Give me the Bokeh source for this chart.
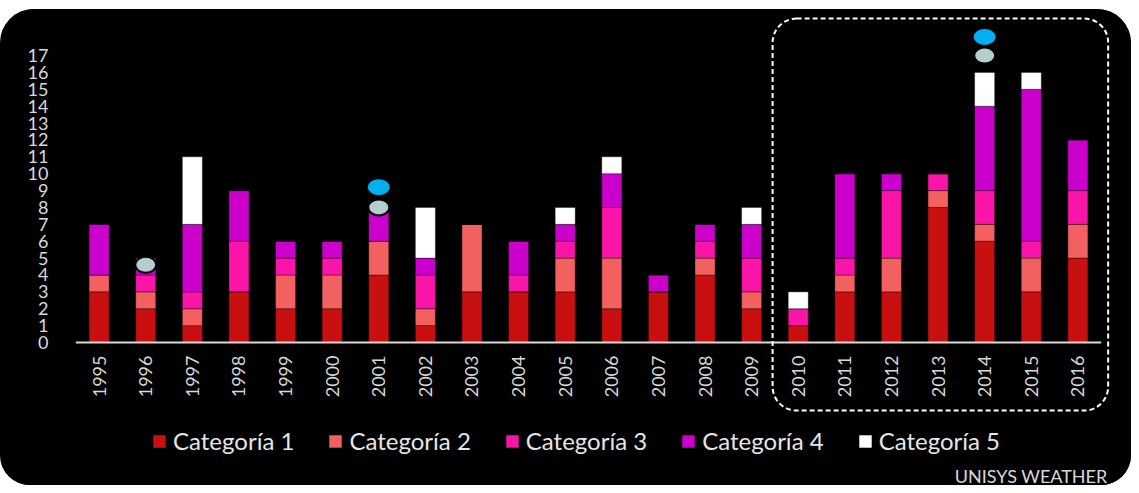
import math
from bokeh.plotting import figure
from bokeh.models import (FactorRange, Range1d, FixedTicker, Legend, LegendItem,
                          BoxAnnotation, Label)
from bokeh.core.properties import value
from bokeh.embed import file_html
from bokeh.resources import INLINE

years = ["1995", "1996", "1997", "1998", "1999", "2000", "2001", "2002", "2003",
         "2004", "2005", "2006", "2007", "2008", "2009", "2010", "2011", "2012",
         "2013", "2014", "2015", "2016"]
cat1 = [3, 2, 1, 3, 2, 2, 4, 1, 3, 3, 3, 2, 3, 4, 2, 1, 3, 3, 8, 6, 3, 5]
cat2 = [1, 1, 1, 0, 2, 2, 2, 1, 4, 0, 2, 3, 0, 1, 1, 0, 1, 2, 1, 1, 2, 2]
cat3 = [0, 1, 1, 3, 1, 1, 0, 2, 0, 1, 1, 3, 0, 1, 2, 1, 1, 4, 1, 2, 1, 2]
cat4 = [3, 1, 4, 3, 1, 1, 2, 1, 0, 2, 1, 2, 1, 1, 2, 0, 5, 1, 0, 5, 9, 3]
cat5 = [0, 0, 4, 0, 0, 0, 0, 3, 0, 0, 1, 1, 0, 0, 1, 1, 0, 0, 0, 2, 1, 0]
series_names = ["Categoría 1", "Categoría 2", "Categoría 3", "Categoría 4", "Categoría 5"]
colors = ["#c81010", "#f26060", "#fa14a8", "#cc00cc", "#ffffff"]

gray_years = ["1996", "2001", "2014"]
gray_vals = [4.6, 8.0, 17.0]
blue_years = ["2001", "2014"]
blue_vals = [9.2, 18.1]

y_ticks = list(range(0, 18))
highlight_from = "2010"

FONT = "Lato"
TXT = "#d9d9d9"

p = figure(title=None,
           x_range=FactorRange(factors=years, range_padding=0.2, range_padding_units="absolute"),
           y_range=Range1d(-8.47, 20.26),
           width=1131, height=485, output_backend="svg", toolbar_location=None,
           min_border_left=66, min_border_right=21, min_border_top=0, min_border_bottom=0)
p.styles = {"clip-path": "inset(9px 0px 0px 0px round 34px 34px 30px 30px)",
            "background-color": "black"}
p.background_fill_color = "black"
p.border_fill_color = "black"
p.outline_line_color = None
p.xgrid.visible = False
p.ygrid.visible = False
p.xaxis.visible = False

data = dict(x=years, c1=cat1, c2=cat2, c3=cat3, c4=cat4, c5=cat5)
rs = p.vbar_stack(["c1", "c2", "c3", "c4", "c5"], x="x", width=0.43, source=data,
                  color=colors, line_color="black", line_alpha=0.35, line_width=1)

# x axis line and year labels
p.segment(x0=[0], x1=[len(years)], y0=[0], y1=[0], line_color=TXT, line_width=2)
p.text(x=years, y=[0] * len(years), text=years, angle=math.pi / 2, y_offset=13,
       text_align="right", text_baseline="middle", text_color=TXT,
       text_font=value(FONT), text_font_size="18px")

p.ellipse(x=gray_years, y=gray_vals, width=21, height=16, width_units="screen",
          height_units="screen", fill_color="#b4cdcd", line_color="black", line_width=2)
p.ellipse(x=blue_years, y=blue_vals, width=22, height=16, width_units="screen",
          height_units="screen", fill_color="#00b0f0", line_color=None)

ya = p.yaxis[0]
ya.ticker = FixedTicker(ticks=y_ticks)
ya.axis_line_color = None
ya.major_tick_line_color = None
ya.minor_tick_line_color = None
ya.major_label_text_color = TXT
ya.major_label_text_font = FONT
ya.major_label_text_font_size = "18px"
ya.major_label_standoff = 12

box = BoxAnnotation(left=years.index(highlight_from) - 0.05, right=len(years) + 0.15,
                    top=19.19, bottom=-4.03,
                    fill_alpha=0, line_color="white", line_alpha=1.0, line_width=2,
                    line_dash="5 3", border_radius=24)
p.add_layout(box)

items = [LegendItem(label=n, renderers=[r]) for n, r in zip(series_names, rs)]
legend = Legend(items=items, orientation="horizontal", location=(85, 30),
                label_text_font=FONT, label_text_font_size="24px", label_text_color="#e6e6e6",
                glyph_width=16, glyph_height=16, label_standoff=6, spacing=33,
                padding=0, margin=0, border_line_color=None, background_fill_alpha=0)
p.add_layout(legend)

lab = Label(x=1041, y=21, x_units="screen", y_units="screen", text="UNISYS WEATHER",
            text_align="right", text_baseline="top", text_color=TXT,
            text_font=FONT, text_font_size="18px")
p.add_layout(lab)

open("out.html", "w").write(file_html(p, INLINE))
